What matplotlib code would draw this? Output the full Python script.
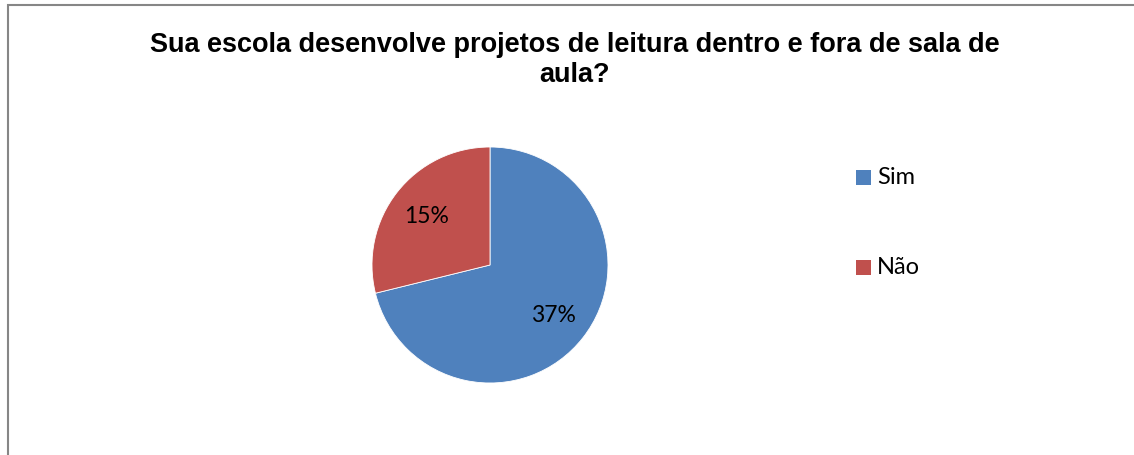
import matplotlib.pyplot as plt
from matplotlib.patches import Rectangle

categories = ["Sim", "Não"]
values = [37, 15]
colors = ["#4f81bd", "#c0504d"]
title = "Sua escola desenvolve projetos de leitura dentro e fora de sala de\naula?"

W, H = 1134, 456
fig = plt.figure(figsize=(W / 100, H / 100), dpi=100)

# chart frame (open on the right and bottom)
fig.add_artist(Rectangle((7.5 / W, -0.1), 1.2, (H - 5.5) / H + 0.1,
                         transform=fig.transFigure, fill=False,
                         edgecolor="#868686", linewidth=1.5))

fig.text(575 / W, 1 - 60 / H, title, ha="center", va="center",
         fontsize=19.5, fontweight="bold", family="Liberation Sans",
         linespacing=1.22)

# pie axes: center (490, 266), radius ~118 px
r = 118
ax = fig.add_axes([(490 - r) / W, (H - 266 - r) / H, 2 * r / W, 2 * r / H])
wedges, texts, autotexts = ax.pie(
    values, colors=colors, startangle=90, counterclock=False,
    autopct=lambda p: f"{round(p * sum(values) / 100):.0f}%",
    pctdistance=0.68, radius=1.0,
    wedgeprops=dict(edgecolor="white", linewidth=0.6),
    textprops=dict(fontsize=16.5, family="Lato", color="black"))
ax.set_xlim(-1, 1)
ax.set_ylim(-1, 1)
ax.set_aspect("equal")

# legend entries
for i, (cat, col) in enumerate(zip(categories, colors)):
    y = 178 + 90 * i
    fig.add_artist(Rectangle((856 / W, 1 - (y + 7.5) / H), 15 / W, 15 / H,
                             transform=fig.transFigure, facecolor=col,
                             edgecolor="none"))
    fig.text(877 / W, 1 - y / H, cat, ha="left", va="center",
             fontsize=17, family="Lato")

fig.savefig("out.png", dpi=100)
